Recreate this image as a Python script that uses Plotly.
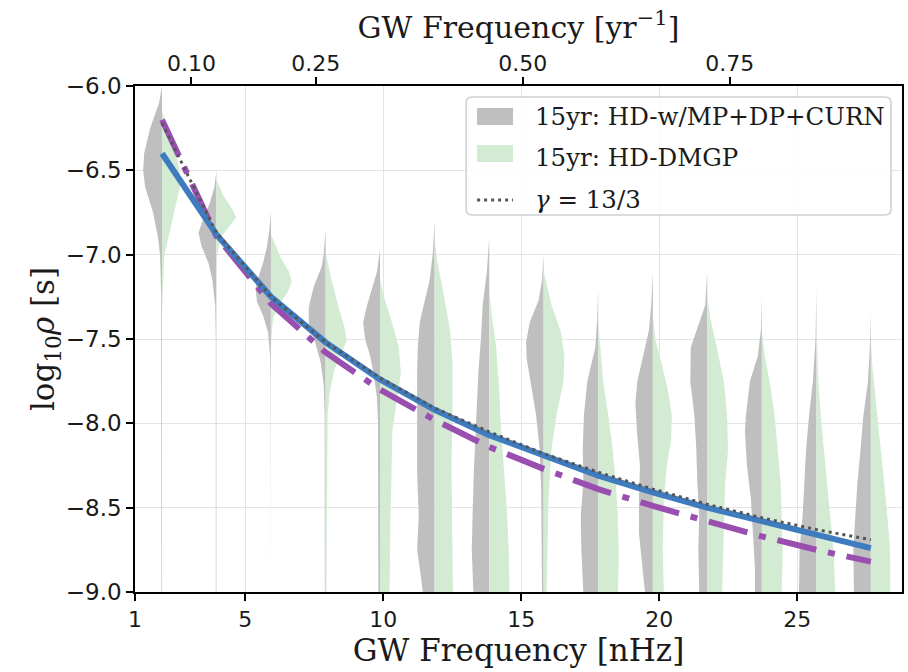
import plotly.graph_objects as go

# ---------------- data ----------------
freqs_nhz = [1.98, 3.95, 5.93, 7.91, 9.88, 11.86, 13.84, 15.81, 17.79, 19.77, 21.74, 23.72, 25.70, 27.67]

# half-violin density profiles: (log10rho, relative density)
gray_profiles = [
    [(-6.0, 0), (-6.1, 0.15), (-6.25, 0.6), (-6.4, 0.9), (-6.5, 0.95), (-6.6, 0.85), (-6.75, 0.45), (-6.9, 0.2), (-7.0, 0.1), (-7.25, 0.04), (-9.0, 0.03)],
    [(-6.5, 0), (-6.6, 0.1), (-6.7, 0.35), (-6.8, 0.7), (-6.87, 0.9), (-6.95, 0.75), (-7.05, 0.4), (-7.15, 0.2), (-7.3, 0.06), (-7.5, 0.03), (-9.0, 0.03)],
    [(-6.75, 0), (-6.85, 0.08), (-6.95, 0.2), (-7.05, 0.4), (-7.12, 0.6), (-7.2, 0.78), (-7.28, 0.7), (-7.36, 0.4), (-7.46, 0.15), (-7.6, 0.05), (-7.8, 0.03), (-9.0, 0.03)],
    [(-6.85, 0), (-7.0, 0.1), (-7.07, 0.2), (-7.19, 0.6), (-7.31, 0.85), (-7.4, 0.85), (-7.51, 0.55), (-7.64, 0.25), (-7.77, 0.1), (-7.95, 0.05), (-9.0, 0.04)],
    [(-6.97, 0), (-7.1, 0.15), (-7.2, 0.4), (-7.3, 0.65), (-7.4, 0.85), (-7.5, 0.75), (-7.6, 0.5), (-7.7, 0.33), (-7.85, 0.15), (-8.0, 0.1), (-9.0, 0.08)],
    [(-6.8, 0), (-7.0, 0.1), (-7.15, 0.25), (-7.27, 0.5), (-7.4, 0.75), (-7.55, 0.85), (-7.7, 0.88), (-8.0, 0.88), (-8.3, 0.88), (-8.55, 0.8), (-8.75, 0.88), (-8.9, 0.7), (-9.0, 0.6)],
    [(-6.9, 0), (-7.1, 0.12), (-7.3, 0.33), (-7.5, 0.42), (-7.7, 0.55), (-7.9, 0.63), (-8.1, 0.72), (-8.3, 0.78), (-8.5, 0.83), (-8.75, 0.88), (-9.0, 0.8)],
    [(-7.0, 0), (-7.15, 0.08), (-7.27, 0.25), (-7.4, 0.7), (-7.52, 0.88), (-7.62, 0.85), (-7.76, 0.65), (-7.95, 0.38), (-8.15, 0.2), (-8.4, 0.12), (-9.0, 0.08)],
    [(-7.2, 0), (-7.4, 0.06), (-7.55, 0.15), (-7.75, 0.55), (-7.95, 0.72), (-8.15, 0.78), (-8.35, 0.75), (-8.55, 0.88), (-8.75, 0.85), (-9.0, 0.75)],
    [(-7.1, 0), (-7.3, 0.08), (-7.45, 0.2), (-7.6, 0.5), (-7.75, 0.78), (-7.88, 0.88), (-8.05, 0.8), (-8.25, 0.65), (-8.45, 0.7), (-8.65, 0.7), (-8.85, 0.55), (-9.0, 0.4)],
    [(-7.1, 0), (-7.3, 0.1), (-7.42, 0.45), (-7.55, 0.83), (-7.75, 0.85), (-7.95, 0.65), (-8.15, 0.55), (-8.35, 0.5), (-8.55, 0.4), (-8.75, 0.45), (-9.0, 0.4)],
    [(-7.25, 0), (-7.45, 0.05), (-7.6, 0.2), (-7.75, 0.6), (-7.95, 0.8), (-8.05, 0.85), (-8.25, 0.75), (-8.45, 0.55), (-8.65, 0.45), (-8.85, 0.35), (-9.0, 0.35)],
    [(-7.2, 0), (-7.5, 0.05), (-7.75, 0.18), (-7.95, 0.37), (-8.15, 0.52), (-8.35, 0.62), (-8.55, 0.7), (-8.75, 0.85), (-9.0, 0.88)],
    [(-7.35, 0), (-7.55, 0.05), (-7.76, 0.15), (-7.96, 0.38), (-8.16, 0.52), (-8.36, 0.68), (-8.55, 0.78), (-8.75, 0.88), (-9.0, 0.85)],
]

green_profiles = [
    [(-6.15, 0), (-6.25, 0.3), (-6.4, 0.7), (-6.5, 0.88), (-6.6, 0.9), (-6.75, 0.6), (-6.9, 0.3), (-7.0, 0.12), (-7.2, 0.04), (-7.35, 0)],
    [(-6.55, 0), (-6.65, 0.35), (-6.72, 0.75), (-6.78, 1.0), (-6.84, 0.6), (-6.9, 0.2), (-7.0, 0.05), (-7.1, 0)],
    [(-6.88, 0), (-6.95, 0.25), (-7.02, 0.5), (-7.1, 0.9), (-7.16, 1.05), (-7.22, 0.85), (-7.3, 0.4), (-7.38, 0.1), (-7.5, 0.02), (-7.6, 0)],
    [(-6.99, 0), (-7.15, 0.3), (-7.31, 0.65), (-7.43, 0.95), (-7.51, 1.05), (-7.58, 0.8), (-7.68, 0.45), (-7.82, 0.2), (-7.95, 0.1), (-9.0, 0.04)],
    [(-7.15, 0), (-7.25, 0.2), (-7.4, 0.6), (-7.55, 0.95), (-7.7, 1.05), (-7.85, 0.85), (-8.05, 0.62), (-8.3, 0.58), (-8.6, 0.52), (-9.0, 0.48)],
    [(-6.9, 0), (-7.05, 0.15), (-7.2, 0.4), (-7.3, 0.55), (-7.45, 0.78), (-7.65, 0.9), (-7.9, 0.9), (-8.25, 0.85), (-8.65, 0.87), (-9.0, 0.92)],
    [(-7.2, 0), (-7.35, 0.12), (-7.55, 0.35), (-7.8, 0.5), (-8.05, 0.6), (-8.3, 0.75), (-8.5, 0.88), (-8.75, 0.98), (-9.0, 1.02)],
    [(-7.1, 0), (-7.2, 0.2), (-7.3, 0.4), (-7.45, 0.85), (-7.6, 1.05), (-7.75, 1.0), (-7.95, 0.65), (-8.15, 0.4), (-8.45, 0.25), (-9.0, 0.15)],
    [(-7.4, 0), (-7.55, 0.1), (-7.75, 0.25), (-7.95, 0.5), (-8.15, 0.72), (-8.35, 0.88), (-8.55, 0.98), (-8.75, 1.03), (-9.0, 1.0)],
    [(-7.35, 0), (-7.5, 0.12), (-7.65, 0.45), (-7.8, 0.75), (-7.95, 0.95), (-8.1, 0.92), (-8.25, 0.7), (-8.45, 0.55), (-8.75, 0.5), (-9.0, 0.55)],
    [(-7.25, 0), (-7.37, 0.15), (-7.56, 0.5), (-7.76, 0.85), (-7.96, 1.0), (-8.16, 1.05), (-8.36, 0.9), (-8.55, 0.85), (-8.75, 0.8), (-9.0, 0.75)],
    [(-7.45, 0), (-7.6, 0.15), (-7.76, 0.4), (-7.96, 0.65), (-8.16, 0.8), (-8.36, 0.95), (-8.55, 1.0), (-8.75, 1.05), (-9.0, 1.0)],
    [(-7.4, 0), (-7.76, 0.1), (-8.0, 0.25), (-8.16, 0.38), (-8.35, 0.55), (-8.55, 0.72), (-8.75, 0.85), (-9.0, 0.95)],
    [(-7.5, 0), (-7.66, 0.08), (-7.96, 0.33), (-8.16, 0.52), (-8.36, 0.68), (-8.55, 0.83), (-8.75, 0.97), (-9.0, 0.98)],
]

curn_fit = [-6.40, -6.88, -7.25, -7.52, -7.74, -7.92, -8.07, -8.19, -8.31, -8.41, -8.50, -8.58, -8.66, -8.74]
dmgp_fit = [-6.20, -6.89, -7.29, -7.58, -7.80, -7.98, -8.14, -8.27, -8.39, -8.49, -8.58, -8.67, -8.75, -8.82]
gamma_133 = [-6.22, -6.87, -7.25, -7.52, -7.73, -7.91, -8.05, -8.18, -8.29, -8.39, -8.48, -8.56, -8.63, -8.69]

legend_labels = ["15yr: HD-w/MP+DP+CURN", "15yr: HD-DMGP", "<i>γ</i> = 13/3"]

top_ticks = [0.10, 0.25, 0.50, 0.75]
top_ticktext = ["0.10", "0.25", "0.50", "0.75"]
bottom_ticks = [1, 5, 10, 15, 20, 25]
y_ticks = [-6.0, -6.5, -7.0, -7.5, -8.0, -8.5, -9.0]

# ---------------- style ----------------
HALF_W = 0.72  # nHz for density 1
GRAY = "#bfbfbf"
GREEN = "#d4ebd3"
PURPLE = "#9a4fb0"
BLUE = "#3f7cbf"
DOTC = "#555555"
SERIF = "DejaVu Serif"
SANS = "DejaVu Sans"
TXT = "#1a1a1a"


def violins(profiles, side):
    xs, ys = [], []
    for c, prof in zip(freqs_nhz, profiles):
        vy = [p[0] for p in prof]
        vx = [c + side * p[1] * HALF_W for p in prof]
        xs += vx + [c, c, vx[0], None]
        ys += vy + [vy[-1], vy[0], vy[0], None]
    return xs, ys


fig = go.Figure()

gx, gy = violins(gray_profiles, -1)
fig.add_trace(go.Scatter(x=gx, y=gy, mode="lines", fill="toself", fillcolor=GRAY,
                         line=dict(width=0, color=GRAY), showlegend=False, hoverinfo="skip"))
ex, ey = violins(green_profiles, 1)
fig.add_trace(go.Scatter(x=ex, y=ey, mode="lines", fill="toself", fillcolor=GREEN,
                         line=dict(width=0, color=GREEN), showlegend=False, hoverinfo="skip"))

fig.add_trace(go.Scatter(x=freqs_nhz, y=dmgp_fit, mode="lines", showlegend=False,
                         line=dict(color=PURPLE, width=6, dash="40px,12px,7px,12px")))
fig.add_trace(go.Scatter(x=freqs_nhz, y=curn_fit, mode="lines", showlegend=False,
                         line=dict(color=BLUE, width=6)))
fig.add_trace(go.Scatter(x=freqs_nhz, y=gamma_133, mode="lines", showlegend=False,
                         line=dict(color=DOTC, width=3, dash="3px,4px")))

# top axis (yr^-1) carrier, no visible marks
fig.add_trace(go.Scatter(x=top_ticks, y=[None] * len(top_ticks), xaxis="x2", yaxis="y",
                         mode="lines", showlegend=False, hoverinfo="skip"))

axis_common = dict(showline=True, linecolor="black", linewidth=1.5, ticks="outside",
                   ticklen=7, tickwidth=1.5, tickcolor="black", zeroline=False)

# ---------- legend (drawn in paper coords) ----------
px0, px1 = 135, 904
py0, py1 = 86, 592


def fx(p):
    return (p - px0) / (px1 - px0)


def fy(p):
    return 1 - (p - py0) / (py1 - py0)


shapes = []
x0, x1, y0, y1, r = fx(467), fx(893), fy(97), fy(215), 6
rx = r / (px1 - px0)
ry = r / (py1 - py0)
path = (f"M {x0+rx},{y0} L {x1-rx},{y0} Q {x1},{y0} {x1},{y0-ry} "
        f"L {x1},{y1+ry} Q {x1},{y1} {x1-rx},{y1} L {x0+rx},{y1} "
        f"Q {x0},{y1} {x0},{y1+ry} L {x0},{y0-ry} Q {x0},{y0} {x0+rx},{y0} Z")
shapes.append(dict(type="path", xref="paper", yref="paper", path=path,
                   fillcolor="rgba(255,255,255,0.85)", line=dict(color="#cfcfcf", width=1.5),
                   layer="above"))
shapes.append(dict(type="rect", xref="paper", yref="paper", x0=fx(478), x1=fx(514),
                   y0=fy(108), y1=fy(125), fillcolor=GRAY, line=dict(width=0), layer="above"))
shapes.append(dict(type="rect", xref="paper", yref="paper", x0=fx(478), x1=fx(514),
                   y0=fy(145), y1=fy(162), fillcolor=GREEN, line=dict(width=0), layer="above"))
shapes.append(dict(type="line", xref="paper", yref="paper", x0=fx(478), x1=fx(514),
                   y0=fy(200), y1=fy(200), line=dict(color=DOTC, width=3, dash="3px,4px"),
                   layer="above"))

annotations = []
for lab, yc in zip(legend_labels, [117, 157, 199]):
    annotations.append(dict(text=lab, xref="paper", yref="paper", x=fx(534), y=fy(yc),
                            xanchor="left", yanchor="middle", showarrow=False,
                            font=dict(family=SERIF, size=24.5, color=TXT)))

fig.update_layout(
    width=908, height=672,
    margin=dict(l=px0, r=908 - px1, t=py0, b=672 - py1),
    paper_bgcolor="white", plot_bgcolor="white",
    showlegend=False,
    shapes=shapes, annotations=annotations,
    xaxis=dict(range=[1, 28.8], tickvals=bottom_ticks, mirror=True,
               showgrid=True, gridcolor="#e4e4e4", gridwidth=1,
               tickfont=dict(family=SANS, size=22, color=TXT),
               title=dict(text="GW Frequency [nHz]", standoff=6,
                          font=dict(family=SERIF, size=31, color=TXT)),
               **axis_common),
    xaxis2=dict(range=[0.0319, 0.958], overlaying="x", side="top", anchor="y",
                tickvals=top_ticks, ticktext=top_ticktext, showgrid=False,
                tickfont=dict(family=SANS, size=22, color=TXT), ticklabelstandoff=-3,
                title=dict(text="GW Frequency [yr<sup>−1</sup>]", standoff=4,
                           font=dict(family=SERIF, size=30, color=TXT)),
                **axis_common),
    yaxis=dict(range=[-9, -6], tickvals=y_ticks, tickformat=".1f", mirror=True,
               showgrid=True, gridcolor="#e4e4e4", gridwidth=1,
               tickfont=dict(family=SANS, size=23, color=TXT),
               title=dict(text="log<sub>10</sub><i>ρ</i> [s]", standoff=0,
                          font=dict(family=SERIF, size=31, color=TXT)),
               **axis_common),
)

fig.write_html("out.html")
